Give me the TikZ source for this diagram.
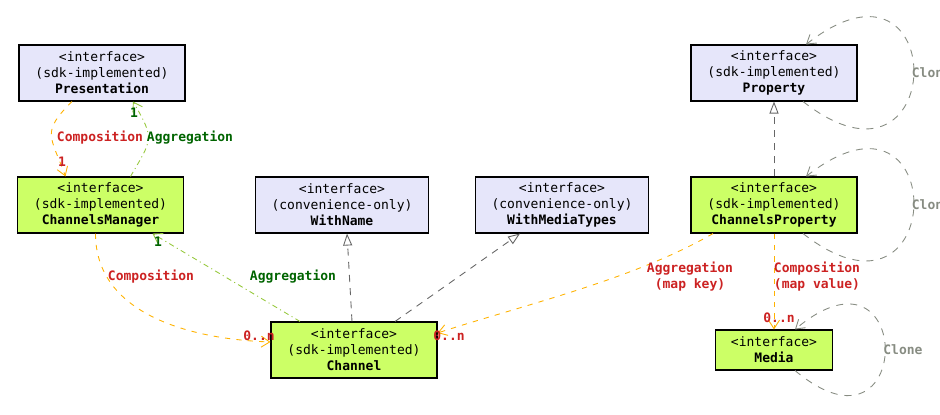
\documentclass[tikz,border=0pt]{standalone}
\usepackage{fontspec}
\setmonofont{DejaVu Sans Mono}
\usetikzlibrary{arrows.meta,positioning,calc}
\usepackage{xcolor}
\definecolor{IfaceBlue}{RGB}{230,230,250}
\definecolor{ImplGreen}{RGB}{204,255,102}
\definecolor{CompOrange}{RGB}{255,178,0}
\definecolor{AggLime}{RGB}{150,200,60}
\definecolor{CompRed}{RGB}{204,34,34}
\definecolor{AggGreen}{RGB}{0,100,0}
\definecolor{CloneGray}{RGB}{135,140,130}
\tikzset{
  ifacebox/.style={draw=black,line width=0.6pt,fill=IfaceBlue,inner sep=0pt,
    minimum width=3.32cm,minimum height=1.12cm,align=center,
    font=\ttfamily\fontsize{7.4}{9.1}\selectfont},
  implbox/.style={ifacebox,fill=ImplGreen},
  complink/.style={-{Straight Barb[length=1.7mm,width=2.2mm]},
    line width=0.5pt,draw=CompOrange,dash pattern=on 3pt off 3.5pt},
  agglink/.style={-{Straight Barb[length=1.7mm,width=2.2mm]},
    line width=0.5pt,draw=AggLime,dash pattern=on 3pt off 2pt on 0.6pt off 2pt},
  reallink/.style={-{Triangle[open,length=2.4mm,width=1.8mm,fill=white]},
    line width=0.5pt,draw=black!60,dash pattern=on 4pt off 3.5pt},
  clonelink/.style={-{Straight Barb[length=1.7mm,width=2.2mm]},
    line width=0.5pt,draw=CloneGray,dash pattern=on 4pt off 4pt},
  linklabel/.style={inner sep=0pt,align=center,
    font=\ttfamily\bfseries\fontsize{7.4}{9.1}\selectfont},
  complabel/.style={linklabel,text=CompRed},
  agglabel/.style={linklabel,text=AggGreen},
  clonelabel/.style={linklabel,text=CloneGray},
}

\begin{document}
\begin{tikzpicture}[x=0.02cm,y=0.02cm]
  \useasboundingbox (0,0) rectangle (940,415);
  \node[ifacebox] (pres) at (102,342) {<interface>\\(sdk-implemented)\\\textbf{Presentation}};
  \node[implbox,below=1.5cm of pres,xshift=-0.03cm] (mgr) {<interface>\\(sdk-implemented)\\\textbf{ChannelsManager}};
  \node[ifacebox,minimum width=3.46cm,right=1.42cm of mgr] (wname) {<interface>\\(convenience-only)\\\textbf{WithName}};
  \node[ifacebox,minimum width=3.46cm,right=0.92cm of wname] (wmedia) {<interface>\\(convenience-only)\\\textbf{WithMediaTypes}};
  \node[ifacebox] (prop) at (774,342) {<interface>\\(sdk-implemented)\\\textbf{Property}};
  \node[implbox,below=1.5cm of prop] (cprop) {<interface>\\(sdk-implemented)\\\textbf{ChannelsProperty}};
  \node[implbox] (chan) at (354,65) {<interface>\\(sdk-implemented)\\\textbf{Channel}};
  \node[implbox,minimum width=2.34cm,minimum height=0.8cm] (media) at (774,65) {<interface>\\\textbf{Media}};

  \draw[complink] ($(pres.south)+(-30,0)$) to[out=-135,in=110,looseness=1.5] ($(mgr.north)+(-35,0)$);
  \draw[agglink] ($(mgr.north)+(30,0)$) to[out=60,in=-60,looseness=1.5] ($(pres.south)+(31,0)$);
  \draw[complink] ($(mgr.south)+(-5,0)$) to[out=-90,in=178] ($(chan.west)+(0,8)$);
  \draw[agglink] ($(chan.north)+(-54,0)$) -- ($(mgr.south)+(52,0)$);
  \draw[reallink] ($(chan.north)+(-2,0)$) -- ($(wname.south)+(5,0)$);
  \draw[reallink] ($(chan.north)+(41,0)$) -- ($(wmedia.south)+(-42,0)$);
  \draw[complink] ($(cprop.south)+(-61,0)$) to[out=-150,in=18,looseness=0.8] ($(chan.east)+(0,17)$);
  \draw[complink] (cprop.south) -- (media.north);
  \draw[reallink] (cprop.north) -- (prop.south);
  \draw[clonelink] ($(prop.south)+(29,0)$) .. controls +(-38:185) and +(38:185) .. ($(prop.north)+(32,0)$);
  \draw[clonelink] ($(cprop.south)+(29,0)$) .. controls +(-38:185) and +(38:185) .. ($(cprop.north)+(32,0)$);
  \draw[clonelink] ($(media.south)+(21,0)$) .. controls +(-40:157) and +(40:157) .. ($(media.north)+(21,0)$);

  \node[complabel] (pcomp) at (100,277) {Composition};
  \node[agglabel] (pagg) at (190,277) {Aggregation};
  \node[complabel] (pcompn) at (62,253) {1};
  \node[agglabel] (paggn) at (134,302) {1};
  \node[complabel] (ccomp) at (151,138) {Composition};
  \node[agglabel] (cagg) at (293,138) {Aggregation};
  \node[agglabel] (caggn) at (158,173) {1};
  \node[complabel] (ccompn) at (259,79) {0..n};
  \node[complabel] (kagg) at (690,138) {Aggregation\\(map key)};
  \node[complabel] (kaggn) at (449,79) {0..n};
  \node[complabel] (vcomp) at (817,138) {Composition\\(map value)};
  \node[complabel] (vcompn) at (779,97) {0..n};
  \node[clonelabel,anchor=west,right=1.08cm of prop] (pclone) {Clone};
  \node[clonelabel,anchor=west,right=1.08cm of cprop] (cclone) {Clone};
  \node[clonelabel,anchor=west,right=1.0cm of media] (mclone) {Clone};
\end{tikzpicture}
\end{document}
